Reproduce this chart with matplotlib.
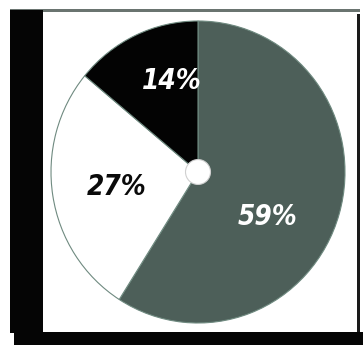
import matplotlib
matplotlib.use("Agg")
import matplotlib.pyplot as plt
from matplotlib.patches import Rectangle, Ellipse

labels = ["59%", "27%", "14%"]
values = [59, 27, 14]
colors = ["#4d5f59", "#ffffff", "#030303"]
label_colors = ["#ffffff", "#0a0a0a", "#ffffff"]
label_pos = [(0.47, -0.30), (-0.55, -0.10), (-0.18, 0.60)]

W, H = 363, 345
fig = plt.figure(figsize=(W / 100, H / 100), dpi=100)
fig.patch.set_facecolor("white")

def px(x, y, w, h, **kw):
    fig.patches.append(Rectangle((x / W, 1 - (y + h) / H), w / W, h / H,
                                 transform=fig.transFigure, figure=fig, **kw))

# frame
px(10, 9, 350, 2.5, facecolor="#6a7470", edgecolor="none")
px(10, 10, 33, 323, facecolor="#050505", edgecolor="none")
px(357, 14, 3, 318, facecolor="#1a1a1a", edgecolor="none")
px(14, 332, 349, 13, facecolor="#050505", edgecolor="none")

cx, cy, rx, ry = 198, 172, 147, 151
ax = fig.add_axes([(cx - rx) / W, 1 - (cy + ry) / H, 2 * rx / W, 2 * ry / H])
ax.pie(values, colors=colors, startangle=90, counterclock=False,
       wedgeprops=dict(edgecolor="#6f8a80", linewidth=0.8))
ax.set_xlim(-1, 1)
ax.set_ylim(-1, 1)
ax.set_aspect("auto")
ax.axis("off")
ax.add_patch(Ellipse((0, 0), 0.17, 0.165, facecolor="white", edgecolor="#d0d0d0",
                     linewidth=0.8, zorder=5))

for lab, (x, y), c in zip(labels, label_pos, label_colors):
    ax.text(x, y, lab, color=c, fontsize=20, fontweight="bold", style="italic",
            family="DejaVu Sans", fontstretch="condensed",
            ha="center", va="center", zorder=6)

fig.savefig("out.png", dpi=100)
